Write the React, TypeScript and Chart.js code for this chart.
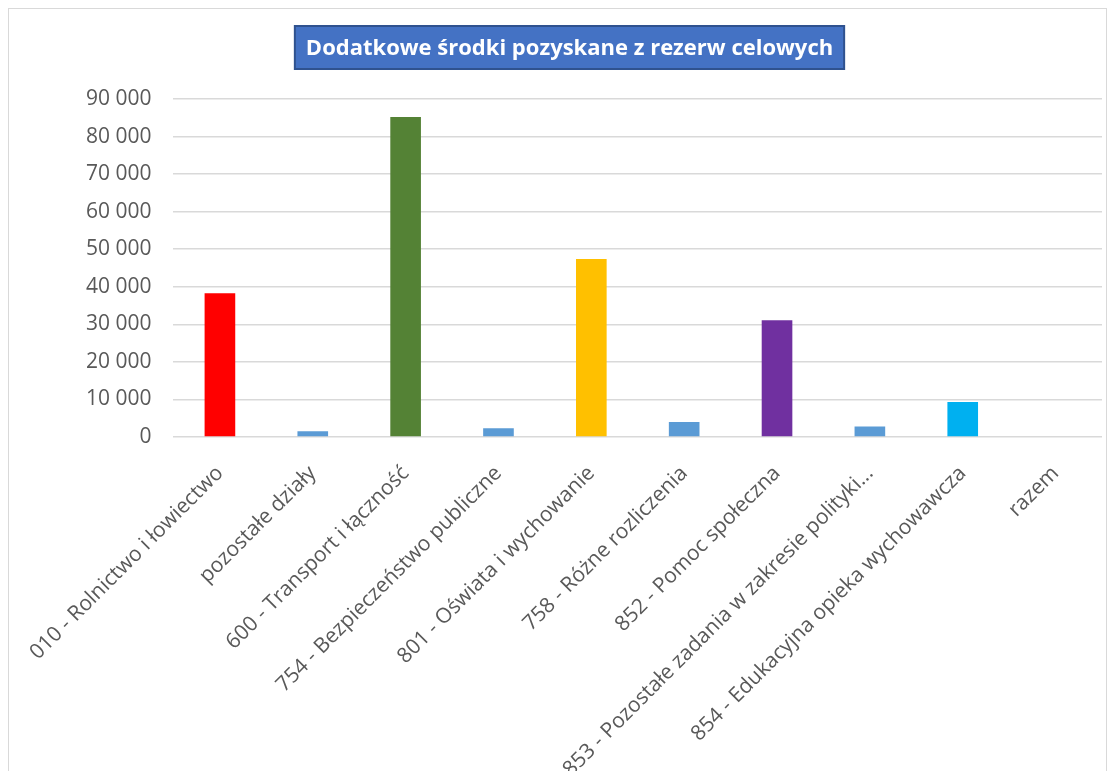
import React, { useEffect, useRef } from "react";
import { Chart, registerables } from "chart.js";

Chart.register(...registerables);

const TITLE = "Dodatkowe środki pozyskane z rezerw celowych";

const categories = [
  "010 - Rolnictwo i łowiectwo",
  "pozostałe działy",
  "600 - Transport i łączność",
  "754 - Bezpieczeństwo publiczne",
  "801 - Oświata i wychowanie",
  "758 - Różne rozliczenia",
  "852 - Pomoc społeczna",
  "853 - Pozostałe zadania w zakresie polityki...",
  "854 - Edukacyjna opieka wychowawcza",
  "razem",
];

const values = [38300, 1500, 85200, 2300, 47400, 4000, 31100, 2800, 9300, 0];

const barColors = [
  "#FF0000",
  "#5B9BD5",
  "#548235",
  "#5B9BD5",
  "#FFC000",
  "#5B9BD5",
  "#7030A0",
  "#5B9BD5",
  "#00B0F0",
  "#5B9BD5",
];

const yMin = 0;
const yMax = 90000;
const yStep = 10000;

const fmt = (v: number) =>
  Math.round(v)
    .toString()
    .replace(/\B(?=(\d{3})+(?!\d))/g, " ");

const titlePlugin = {
  id: "boxTitle",
  afterDraw(chart: any) {
    const ctx = chart.ctx as CanvasRenderingContext2D;
    ctx.save();
    ctx.font = 'bold 22px "Open Sans"';
    const w = ctx.measureText(TITLE).width;
    const padX = 11;
    const boxW = w + padX * 2;
    const boxH = 43;
    const cx = chart.width / 2 + 12;
    const top = 17;
    const left = cx - boxW / 2;
    ctx.fillStyle = "#4472C4";
    ctx.fillRect(left, top, boxW, boxH);
    ctx.strokeStyle = "#2F528F";
    ctx.lineWidth = 2;
    ctx.strokeRect(left, top, boxW, boxH);
    ctx.fillStyle = "#FFFFFF";
    ctx.textAlign = "center";
    ctx.textBaseline = "middle";
    ctx.fillText(TITLE, cx, top + boxH / 2 + 1);
    ctx.restore();
  },
};

export default function App() {
  const ref = useRef<HTMLCanvasElement | null>(null);

  useEffect(() => {
    if (!ref.current) return;
    const chart = new Chart(ref.current, {
      type: "bar",
      data: {
        labels: categories,
        datasets: [
          {
            data: values,
            backgroundColor: barColors,
            borderWidth: 0,
            barPercentage: 0.33,
            categoryPercentage: 1,
          },
        ],
      },
      options: {
        animation: false,
        responsive: true,
        maintainAspectRatio: false,
        layout: { padding: { top: 90, left: 55, right: 4, bottom: 0 } },
        plugins: {
          legend: { display: false },
          title: { display: false },
          tooltip: { enabled: false },
        },
        scales: {
          x: {
            grid: { display: false, drawTicks: false },
            border: { display: false },
            ticks: {
              color: "#595959",
              font: { family: "Open Sans", size: 21 },
              minRotation: 45,
              maxRotation: 45,
              autoSkip: false,
              padding: 24,
            },
            afterFit: (scale: any) => {
              scale.paddingLeft = 0;
              scale.paddingRight = 0;
              scale.height = 334;
            },
          },
          y: {
            min: yMin,
            max: yMax,
            grid: { color: "#D9D9D9", lineWidth: 1.5, drawTicks: false },
            border: { display: false },
            ticks: {
              stepSize: yStep,
              color: "#595959",
              font: { family: "Open Sans", size: 21 },
              padding: 22,
              callback: (v: any) => fmt(Number(v)),
            },
          },
        },
      },
      plugins: [titlePlugin],
    });
    return () => chart.destroy();
  }, []);

  return (
    <div
      style={{
        position: "relative",
        height: 763,
        boxSizing: "border-box",
        border: "1px solid #D9D9D9",
        borderBottom: "none",
        background: "#fff",
      }}
    >
      <canvas ref={ref} />
    </div>
  );
}
